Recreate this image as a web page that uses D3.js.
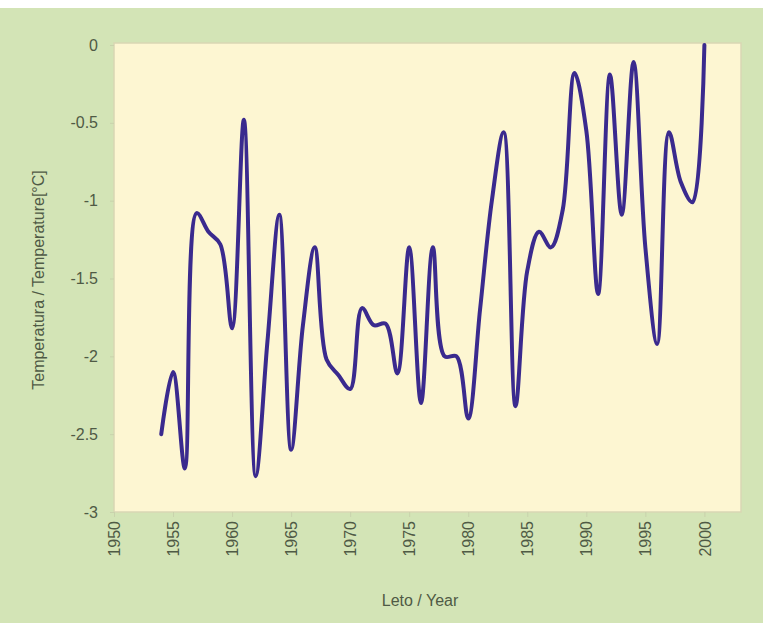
<!DOCTYPE html>
<html>
<head>
<meta charset="utf-8">
<script src="https://cdn.jsdelivr.net/npm/d3@7"></script>
<style>
  html, body { margin: 0; padding: 0; background: #fff; }
  svg text { font-family: "Liberation Sans", Arial, sans-serif; fill: #4f5a45; }
</style>
</head>
<body>
<div id="chart"></div>
<script>
// ----------- DATA ------------
const years = [1954, 1955, 1956, 1957, 1958, 1959, 1960, 1961, 1962, 1963,
  1964, 1965, 1966, 1967, 1968, 1969, 1970, 1971, 1972, 1973,
  1974, 1975, 1976, 1977, 1978, 1979, 1980, 1981, 1982, 1983,
  1984, 1985, 1986, 1987, 1988, 1989, 1990, 1991, 1992, 1993,
  1994, 1995, 1996, 1997, 1998, 1999, 2000];
const temps = [-2.5, -2.1, -2.72, -1.08, -1.2, -1.28, -1.82, -0.48, -2.77, -1.9,
  -1.09, -2.6, -1.8, -1.3, -2.02, -2.12, -2.21, -1.69, -1.8, -1.79,
  -2.11, -1.3, -2.3, -1.3, -2.0, -2.0, -2.4, -1.7, -1.0, -0.56,
  -2.32, -1.45, -1.2, -1.3, -1.06, -0.18, -0.55, -1.6, -0.19, -1.09,
  -0.11, -1.3, -1.92, -0.56, -0.88, -1.01, 0.0];
const xTicks = [1950, 1955, 1960, 1965, 1970, 1975, 1980, 1985, 1990, 1995, 2000];
const yTicks = [0, -0.5, -1, -1.5, -2, -2.5, -3];
const xTitle = 'Leto / Year';
const yTitle = 'Temperatura / Temperature[°C]';

const width = 763, height = 623;
const margin = { left: 114, right: 22, top: 43, bottom: 111 };

// ----------- SVG ------------
const svg = d3.select('#chart')
  .append('svg')
  .attr('width', width)
  .attr('height', height);

svg.append('rect')
  .attr('x', 0).attr('y', 8)
  .attr('width', width).attr('height', height - 8)
  .attr('fill', '#d3e4b6');

const x = d3.scaleLinear().domain([1950, 2003.1]).range([margin.left, width - margin.right]);
const y = d3.scaleLinear().domain([0, -3]).range([45, 512]);

// plot area
svg.append('rect')
  .attr('x', margin.left)
  .attr('y', margin.top)
  .attr('width', width - margin.left - margin.right)
  .attr('height', 512 - margin.top)
  .attr('fill', '#fdf6d2')
  .attr('stroke', '#d9d6b4')
  .attr('stroke-width', 1.5);

// ----------- AXES ------------
const yAxis = svg.append('g')
  .attr('transform', `translate(${margin.left}, 0)`)
  .call(d3.axisLeft(y).tickValues(yTicks).tickSize(4).tickPadding(12)
    .tickFormat(d => String(d)));
yAxis.select('.domain').remove();
yAxis.selectAll('line').attr('stroke', '#c9d2ac');
yAxis.selectAll('text').style('font-size', '16px').attr('fill', '#4f5a45');

const xAxis = svg.append('g')
  .attr('transform', 'translate(0, 512)')
  .call(d3.axisBottom(x).tickValues(xTicks).tickSize(5).tickFormat(d => String(d)));
xAxis.select('.domain').remove();
xAxis.selectAll('line').attr('stroke', '#c9d2ac');
xAxis.selectAll('text')
  .style('font-size', '16px')
  .attr('fill', '#4f5a45')
  .attr('text-anchor', 'end')
  .attr('transform', 'rotate(-90)')
  .attr('x', -9)
  .attr('y', 0)
  .attr('dy', '0.35em');

svg.append('text')
  .attr('x', 420)
  .attr('y', 606)
  .attr('text-anchor', 'middle')
  .style('font-size', '16px')
  .text(xTitle);

svg.append('text')
  .attr('transform', 'translate(44, 280) rotate(-90)')
  .attr('text-anchor', 'middle')
  .style('font-size', '16px')
  .text(yTitle);

// ----------- LINE ------------
const line = d3.line()
  .x((d, i) => x(years[i]))
  .y(d => y(d))
  .curve(d3.curveCatmullRom.alpha(0.5));

svg.append('path')
  .datum(temps)
  .attr('d', line)
  .attr('fill', 'none')
  .attr('stroke', '#3a2a8e')
  .attr('stroke-width', 4)
  .attr('stroke-linejoin', 'round')
  .attr('stroke-linecap', 'round');
</script>
</body>
</html>
